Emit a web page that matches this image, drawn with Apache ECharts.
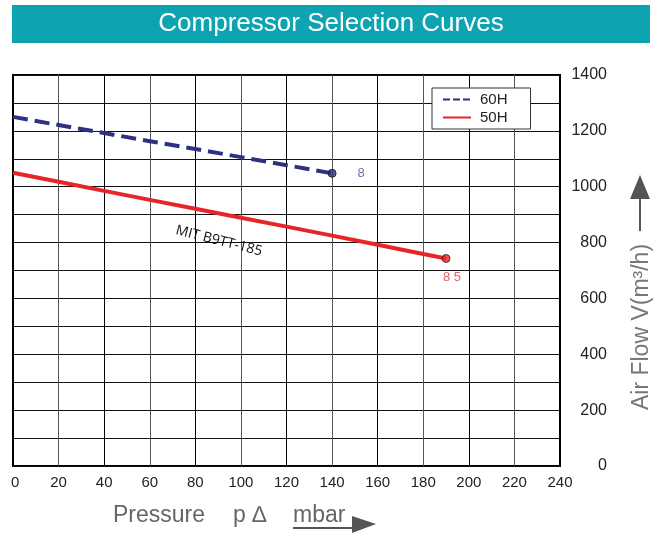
<!DOCTYPE html>
<html>
<head>
<meta charset="utf-8">
<script src="https://cdn.jsdelivr.net/npm/echarts@6/dist/echarts.min.js"></script>
<style>
html,body{margin:0;padding:0;background:#fff;}
#chart{width:658px;height:534px;}
</style>
</head>
<body>
<div id="chart"></div>
<script>
// ---- data ----
const pressure60 = [0, 20, 40, 60, 80, 100, 120, 140];
const flow60 = [1250, 1221, 1192, 1163, 1135, 1106, 1077, 1048];
const pressure50 = [0, 20, 40, 60, 80, 100, 120, 140, 160, 180, 190];
const flow50 = [1050, 1018, 985, 953, 921, 889, 857, 825, 792, 759, 743];
const seriesNames = ['60H', '50H'];
const endLabels = ['8', '8 5'];
const xTicks = [0, 20, 40, 60, 80, 100, 120, 140, 160, 180, 200, 220, 240];
const yTicks = [0, 200, 400, 600, 800, 1000, 1200, 1400];
const titleText = 'Compressor Selection Curves';
const yName = 'Air Flow V(m³/h)';
const annotation = 'MIT B9TT-185';

const chart = echarts.init(document.getElementById('chart'), null, {renderer: 'canvas'});

const zip = (xs, ys) => xs.map((x, i) => [x, ys[i]]);
const last = arr => arr[arr.length - 1];

const option = {
  animation: false,
  backgroundColor: '#fff',
  grid: {left: 13, top: 75, width: 547, height: 391, show: true, borderColor: '#000', borderWidth: 2, backgroundColor: 'transparent'},
  legend: {
    data: [
      {name: seriesNames[0], lineStyle: {width: 2, type: [7, 3]}},
      {name: seriesNames[1], lineStyle: {width: 2}}
    ],
    orient: 'vertical',
    left: 432, top: 88,
    backgroundColor: '#fff',
    borderColor: '#333', borderWidth: 1,
    padding: [4, 23, 4, 10],
    itemGap: 3,
    itemWidth: 28, itemHeight: 14,
    itemStyle: {color: 'transparent', borderWidth: 0, opacity: 0},
    lineStyle: {width: 2},
    textStyle: {fontFamily: 'Liberation Sans', fontSize: 15, color: '#222', padding: [0, 0, 0, 4]}
  },
  xAxis: {
    type: 'value', min: 0, max: 240, interval: 20,
    axisLine: {show: false},
    axisTick: {show: false},
    axisLabel: {
      margin: 9, fontFamily: 'Liberation Sans', fontSize: 15, color: '#222',
      formatter: v => xTicks.indexOf(v) >= 0 ? (v === 0 ? ' 0' : String(v)) : ''
    },
    splitLine: {show: true, lineStyle: {color: ['#000', '#555'], width: 1}}
  },
  yAxis: {
    type: 'value', position: 'right', min: 0, max: 1400, interval: 100,
    axisLine: {show: false},
    axisTick: {show: false},
    axisLabel: {
      margin: 47, align: 'right', fontFamily: 'Liberation Sans', fontSize: 16, color: '#222',
      formatter: v => yTicks.indexOf(v) >= 0 ? String(v) : ''
    },
    splitLine: {show: true, lineStyle: {color: '#111', width: 1}}
  },
  series: [
    {
      name: seriesNames[0], type: 'line', symbol: 'none', z: 3,
      data: zip(pressure60, flow60),
      lineStyle: {color: '#2e3182', width: 4, type: [15, 7]},
      itemStyle: {color: '#2e3182'}
    },
    {
      name: seriesNames[1], type: 'line', symbol: 'none', z: 3,
      data: zip(pressure50, flow50),
      lineStyle: {color: '#e8242b', width: 4},
      itemStyle: {color: '#e8242b'}
    },
    {
      name: 'end60', type: 'scatter', symbol: 'circle', symbolSize: 8, z: 4,
      data: [[last(pressure60), last(flow60)]],
      itemStyle: {color: '#2e3182', borderColor: '#111', borderWidth: 1},
      label: {show: true, position: 'right', distance: 21, formatter: endLabels[0],
        fontFamily: 'Liberation Sans', fontSize: 13, color: '#4a4aa0'}
    },
    {
      name: 'end50', type: 'scatter', symbol: 'circle', symbolSize: 8, z: 4,
      data: [[last(pressure50), last(flow50)]],
      itemStyle: {color: '#e8242b', borderColor: '#222', borderWidth: 1},
      label: {show: true, position: 'bottom', distance: 8, offset: [6, 0], formatter: endLabels[1],
        fontFamily: 'Liberation Sans', fontSize: 13, color: '#e8343e'}
    }
  ],
  graphic: [
    {type: 'rect', shape: {x: 12, y: 5, width: 638, height: 38}, style: {fill: '#0da3b0'}, z: 10},
    {type: 'text', x: 331, y: 24, z: 11, style: {text: titleText, fill: '#fff', font: '26px "Liberation Sans"', align: 'center', verticalAlign: 'middle'}},
    {type: 'text', x: 642, y: 327, rotation: Math.PI / 2, z: 11,
      style: {text: yName, fill: '#777', font: '23px "Liberation Sans"', align: 'center', verticalAlign: 'middle'}},
    {type: 'line', shape: {x1: 640, y1: 196, x2: 640, y2: 231}, style: {stroke: '#555', lineWidth: 2}, z: 11},
    {type: 'polygon', shape: {points: [[640, 175], [630, 199], [650, 199]]}, style: {fill: '#555'}, z: 11},
    {type: 'text', x: 113, y: 516, z: 11, style: {text: 'Pressure', fill: '#666', font: '23px "Liberation Sans"', align: 'left', verticalAlign: 'middle'}},
    {type: 'text', x: 233, y: 516, z: 11, style: {text: 'p ∆', fill: '#666', font: '23px "Liberation Sans"', align: 'left', verticalAlign: 'middle'}},
    {type: 'text', x: 293, y: 516, z: 11, style: {text: 'mbar', fill: '#666', font: '23px "Liberation Sans"', align: 'left', verticalAlign: 'middle'}},
    {type: 'line', shape: {x1: 293, y1: 528, x2: 354, y2: 528}, style: {stroke: '#555', lineWidth: 2}, z: 11},
    {type: 'polygon', shape: {points: [[352, 516], [376, 524], [352, 533]]}, style: {fill: '#555'}, z: 11},
    {type: 'text', x: 219, y: 241, rotation: -0.245, z: 11,
      style: {text: annotation, fill: '#111', font: '14px "Open Sans"', align: 'center', verticalAlign: 'middle'}}
  ]
};
chart.setOption(option);
</script>
</body>
</html>
